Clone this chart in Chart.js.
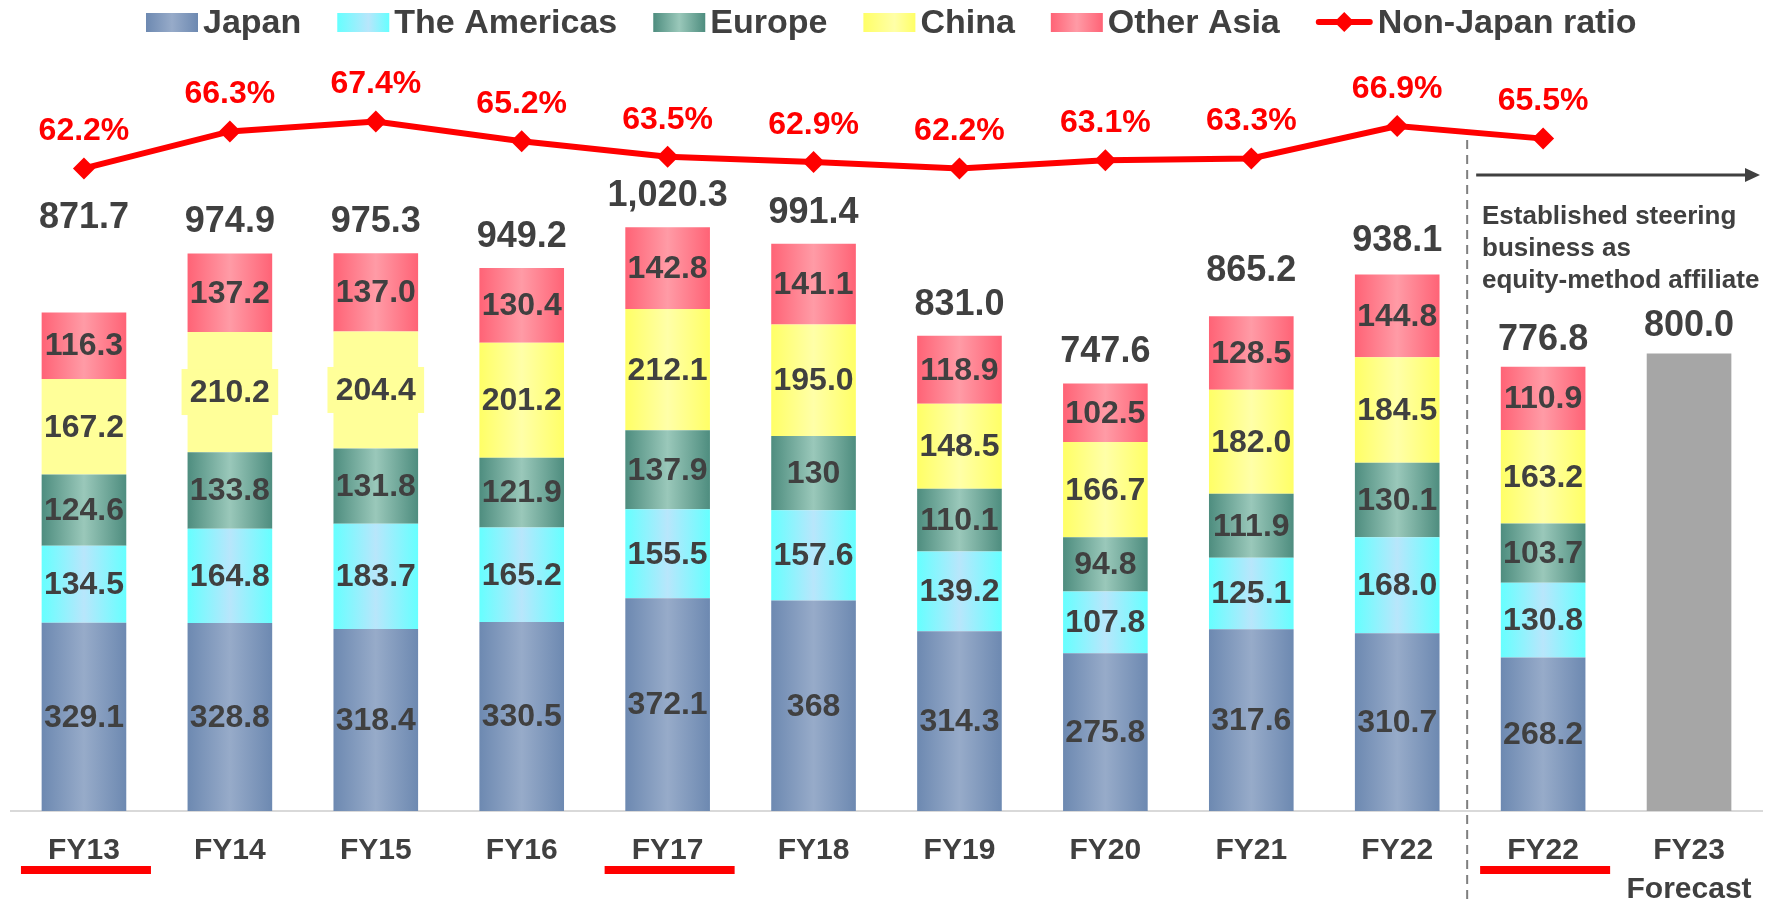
<!DOCTYPE html>
<html>
<head>
<meta charset="utf-8">
<script src="https://cdn.jsdelivr.net/npm/chart.js@4.4.0/dist/chart.umd.min.js"></script>
<style>
  html, body { margin: 0; padding: 0; background: #fff; }
  #wrap { width: 1773px; height: 904px; position: relative; }
</style>
</head>
<body>
<div id="wrap"><canvas id="salesChart"></canvas></div>
<script>
const categories = ['FY13', 'FY14', 'FY15', 'FY16', 'FY17', 'FY18', 'FY19', 'FY20', 'FY21', 'FY22', 'FY22', ['FY23', 'Forecast']];

const japan     = ['329.1', '328.8', '318.4', '330.5', '372.1', '368',   '314.3', '275.8', '317.6', '310.7', '268.2', null];
const americas  = ['134.5', '164.8', '183.7', '165.2', '155.5', '157.6', '139.2', '107.8', '125.1', '168.0', '130.8', null];
const europe    = ['124.6', '133.8', '131.8', '121.9', '137.9', '130',   '110.1', '94.8',  '111.9', '130.1', '103.7', null];
const china     = ['167.2', '210.2', '204.4', '201.2', '212.1', '195.0', '148.5', '166.7', '182.0', '184.5', '163.2', null];
const otherAsia = ['116.3', '137.2', '137.0', '130.4', '142.8', '141.1', '118.9', '102.5', '128.5', '144.8', '110.9', null];
const forecast  = [null, null, null, null, null, null, null, null, null, null, null, '800.0'];
const totals    = ['871.7', '974.9', '975.3', '949.2', '1,020.3', '991.4', '831.0', '747.6', '865.2', '938.1', '776.8', '800.0'];
const nonJapanRatio = [62.2, 66.3, 67.4, 65.2, 63.5, 62.9, 62.2, 63.1, 63.3, 66.9, 65.5, null];

const noteLines = ['Established steering', 'business as', 'equity-method affiliate'];

// layout tweaks (not data)
const totalGap = [94, 31, 31, 31, 31, 31, 31, 31, 45, 33, 27, 27];
const underlined = [0, 4, 10];
const flatChina = [0, 1, 2];
const boxedChina = [1, 2];
const BAR_PCT = 0.58;
const FONT = '"Liberation Sans", Arial, sans-serif';
const TEXT = '#404040';

Chart.defaults.font.family = FONT;

function barGradient(edge, mid, flatIdx, flatColor) {
  return function (c) {
    const chart = c.chart;
    const x = chart.scales.x;
    if (!x || c.dataIndex === undefined) return edge;
    if (flatIdx && flatIdx.includes(c.dataIndex)) return flatColor;
    const cx = x.getPixelForValue(c.dataIndex);
    const half = x.width / chart.data.labels.length * BAR_PCT / 2;
    if (!isFinite(cx) || !isFinite(half) || half <= 0) return edge;
    const g = chart.ctx.createLinearGradient(cx - half, 0, cx + half, 0);
    g.addColorStop(0, edge);
    g.addColorStop(0.5, mid);
    g.addColorStop(1, edge);
    return g;
  };
}

const legendItems = [
  { text: 'Japan', edge: '#6d89b1', mid: '#97abc9' },
  { text: 'The Americas', edge: '#66ffff', mid: '#b8e6fb', left: true },
  { text: 'Europe', edge: '#4e8d7f', mid: '#9ac8ba' },
  { text: 'China', edge: '#ffff66', mid: '#ffffa8', left: true },
  { text: 'Other Asia', edge: '#ff6376', mid: '#ff9ba6' },
  { text: 'Non-Japan ratio', line: true }
];

const decorations = {
  id: 'decorations',
  afterDatasetsDraw(chart) {
    const ctx = chart.ctx;
    const x = chart.scales.x;
    ctx.save();
    ctx.textAlign = 'center';
    ctx.textBaseline = 'middle';

    // values inside segments
    ctx.font = 'bold 32px ' + FONT;
    for (let d = 0; d < 5; d++) {
      const meta = chart.getDatasetMeta(d);
      meta.data.forEach((bar, i) => {
        const raw = chart.data.datasets[d].data[i];
        if (raw == null) return;
        const cy = (bar.y + bar.base) / 2;
        if (d === 3 && boxedChina.includes(i)) {
          ctx.fillStyle = '#ffff99';
          ctx.fillRect(bar.x - bar.width / 2 - 6, cy - 23, bar.width + 12, 46);
        }
        ctx.fillStyle = TEXT;
        ctx.fillText(raw, bar.x, cy + 1);
      });
    }

    // totals above stacks
    ctx.font = 'bold 36px ' + FONT;
    ctx.fillStyle = TEXT;
    totals.forEach((t, i) => {
      let top = Infinity;
      chart.data.datasets.forEach((ds, d) => {
        if (ds.type === 'line' || ds.data[i] == null) return;
        const el = chart.getDatasetMeta(d).data[i];
        if (el) top = Math.min(top, el.y);
      });
      ctx.fillText(t, x.getPixelForValue(i), top - totalGap[i]);
    });

    // ratio labels
    ctx.font = 'bold 32px ' + FONT;
    ctx.fillStyle = '#ff0000';
    const lineMeta = chart.getDatasetMeta(6);
    lineMeta.data.forEach((pt, i) => {
      if (nonJapanRatio[i] == null) return;
      ctx.fillText(nonJapanRatio[i].toFixed(1) + '%', pt.x, pt.y - 37);
    });
    ctx.restore();
  },
  afterDraw(chart) {
    const ctx = chart.ctx;
    const x = chart.scales.x;
    ctx.save();

    // red underlines under selected categories
    ctx.fillStyle = '#ff0000';
    underlined.forEach(i => {
      ctx.fillRect(x.getPixelForValue(i) - 63, 866, 130, 8);
    });

    // dashed separator
    const sepX = (x.getPixelForValue(9) + x.getPixelForValue(10)) / 2 - 3;
    ctx.strokeStyle = '#7f7f7f';
    ctx.lineWidth = 2;
    ctx.setLineDash([9, 6]);
    ctx.beginPath();
    ctx.moveTo(sepX, 140);
    ctx.lineTo(sepX, 904);
    ctx.stroke();
    ctx.setLineDash([]);

    // arrow
    ctx.strokeStyle = TEXT;
    ctx.fillStyle = TEXT;
    ctx.lineWidth = 3;
    ctx.beginPath();
    ctx.moveTo(sepX + 9, 175);
    ctx.lineTo(1748, 175);
    ctx.stroke();
    ctx.beginPath();
    ctx.moveTo(1760, 175);
    ctx.lineTo(1745, 168);
    ctx.lineTo(1745, 182);
    ctx.closePath();
    ctx.fill();

    // note
    ctx.font = 'bold 26px ' + FONT;
    ctx.textAlign = 'left';
    ctx.textBaseline = 'alphabetic';
    noteLines.forEach((t, k) => ctx.fillText(t, 1482, 224 + k * 32));

    // legend
    ctx.font = 'bold 34px ' + FONT;
    let lx = 146;
    const ly = 22;
    legendItems.forEach(it => {
      if (it.line) {
        ctx.strokeStyle = '#ff0000';
        ctx.lineWidth = 6;
        ctx.lineCap = 'round';
        ctx.beginPath();
        ctx.moveTo(lx + 3, ly);
        ctx.lineTo(lx + 54, ly);
        ctx.stroke();
        ctx.fillStyle = '#ff0000';
        ctx.beginPath();
        ctx.moveTo(lx + 28.5, ly - 10);
        ctx.lineTo(lx + 38.5, ly);
        ctx.lineTo(lx + 28.5, ly + 10);
        ctx.lineTo(lx + 18.5, ly);
        ctx.closePath();
        ctx.fill();
        lx += 62;
      } else {
        const g = ctx.createLinearGradient(lx, 0, lx + 52, 0);
        g.addColorStop(0, it.edge);
        g.addColorStop(it.left ? 0.6 : 0.5, it.mid);
        g.addColorStop(1, it.edge);
        ctx.fillStyle = g;
        ctx.fillRect(lx, ly - 9, 52, 19);
        lx += 57;
      }
      ctx.fillStyle = TEXT;
      ctx.fillText(it.text, lx, 33);
      lx += ctx.measureText(it.text).width + 36;
    });
    ctx.restore();
  }
};

const barBase = { type: 'bar', stack: 'sales', yAxisID: 'y', order: 1, borderWidth: 0 };

new Chart(document.getElementById('salesChart'), {
  type: 'bar',
  data: {
    labels: categories,
    datasets: [
      Object.assign({ label: 'Japan', data: japan, backgroundColor: barGradient('#6d89b1', '#97abc9') }, barBase),
      Object.assign({ label: 'The Americas', data: americas, backgroundColor: barGradient('#66ffff', '#b8e6fb') }, barBase),
      Object.assign({ label: 'Europe', data: europe, backgroundColor: barGradient('#4e8d7f', '#9ac8ba') }, barBase),
      Object.assign({ label: 'China', data: china, backgroundColor: barGradient('#ffff66', '#ffffa8', flatChina, '#ffff99') }, barBase),
      Object.assign({ label: 'Other Asia', data: otherAsia, backgroundColor: barGradient('#ff6376', '#ff9ba6') }, barBase),
      Object.assign({ label: 'Forecast', data: forecast, backgroundColor: '#a6a6a6' }, barBase),
      {
        type: 'line',
        label: 'Non-Japan ratio',
        data: nonJapanRatio,
        yAxisID: 'y2',
        order: 0,
        borderColor: '#ff0000',
        backgroundColor: '#ff0000',
        borderWidth: 6,
        pointStyle: 'rectRot',
        pointRadius: 11,
        pointBackgroundColor: '#ff0000',
        pointBorderWidth: 0,
        tension: 0,
        fill: false
      }
    ]
  },
  options: {
    responsive: true,
    maintainAspectRatio: false,
    animation: false,
    datasets: { bar: { categoryPercentage: 1, barPercentage: BAR_PCT } },
    layout: { padding: { top: 60, left: 8, right: 10, bottom: 0 } },
    plugins: { legend: { display: false }, tooltip: { enabled: false } },
    scales: {
      x: {
        stacked: true,
        grid: { display: false, drawTicks: false },
        border: { display: true, color: '#d9d9d9', width: 2 },
        ticks: { color: TEXT, font: { size: 30, weight: 'bold', lineHeight: 1.3 }, padding: 20, maxRotation: 0, autoSkip: false },
        afterFit(scale) { scale.height = 93; }
      },
      y: { stacked: true, display: false, min: 0, max: 1313 },
      y2: { display: false, min: -8.9, max: 74.2 }
    }
  },
  plugins: [decorations]
});
</script>
</body>
</html>
